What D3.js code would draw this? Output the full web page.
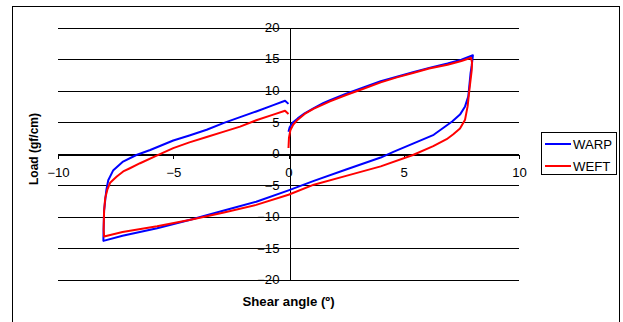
<!DOCTYPE html>
<html>
<head>
<meta charset="utf-8">
<script src="https://cdn.jsdelivr.net/npm/d3@7"></script>
<style>
  html, body { margin: 0; padding: 0; background: #fff; }
  svg { display: block; }
  text { font-family: Arial, "Liberation Sans", sans-serif; }
</style>
</head>
<body>
<svg id="chart" width="623" height="322"></svg>
<script>
// ---- data ----
const xTicks = [-10, -5, 0, 5, 10];
const yTicks = [-20, -15, -10, -5, 0, 5, 10, 15, 20];
const seriesNames = ["WARP", "WEFT"];
const seriesColors = ["#0000FF", "#FF0000"];

const warpAngle = [0, 0.05, 0.2, 0.4, 0.7, 1.08, 1.5, 1.8, 2.5, 3.25, 4.0, 4.7, 5.4, 6.1, 6.9, 7.5, 8.0,
  7.95, 7.9, 7.8, 7.66, 7.44, 7.1, 6.3, 5.4, 4.55, 4.0, 2.5, 1.1, 0, -1.4, -2.8, -4.3, -5.7, -7.2, -8.03,
  -8.03, -8.0, -7.95, -7.9, -7.82, -7.6, -7.2, -6.6, -6.0, -5.0, -4.3, -3.55, -2.8, -2.1, -1.4, -0.66, -0.15, 0];
const warpLoad = [3.5, 4.2, 5.0, 5.6, 6.4, 7.2, 8.0, 8.5, 9.5, 10.5, 11.5, 12.2, 12.9, 13.6, 14.3, 14.9, 15.6,
  14.0, 12.8, 9.1, 7.5, 6.2, 5.1, 3.0, 1.6, 0.3, -0.6, -2.5, -4.3, -5.8, -7.6, -9.0, -10.5, -11.8, -13.0, -13.8,
  -13.3, -9.0, -7.3, -5.7, -4.2, -2.6, -1.3, -0.2, 0.6, 2.1, 2.9, 3.8, 4.9, 5.8, 6.7, 7.7, 8.4, 7.9];

const weftAngle = [0, 0.02, 0.08, 0.2, 0.4, 0.7, 1.08, 1.8, 2.5, 3.25, 4.0, 4.7, 5.4, 6.1, 6.9, 7.5, 7.92,
  7.96, 7.95, 7.85, 7.77, 7.66, 7.44, 7.15, 6.86, 6.28, 5.4, 4.0, 2.5, 1.1, 0, -1.4, -2.8, -4.3, -5.7, -7.2, -8.0,
  -8.02, -8.0, -7.95, -7.86, -7.74, -7.45, -7.17, -6.88, -6.44, -5.72, -5.0, -4.3, -3.55, -2.8, -2.1, -1.4, -0.66, -0.15, 0];
const weftLoad = [0.9, 2.5, 3.7, 4.6, 5.4, 6.3, 7.1, 8.3, 9.3, 10.3, 11.3, 12.1, 12.8, 13.5, 14.1, 14.7, 15.2,
  14.5, 13.3, 10.2, 7.5, 5.4, 4.0, 3.1, 2.3, 1.2, -0.2, -2.0, -3.5, -4.9, -6.5, -8.1, -9.3, -10.5, -11.5, -12.4, -13.1,
  -12.0, -9.0, -7.0, -5.7, -4.6, -3.6, -2.8, -2.3, -1.5, -0.3, 0.9, 1.8, 2.65, 3.5, 4.3, 5.3, 6.2, 6.8, 6.3];

const series = [
  { name: seriesNames[0], color: seriesColors[0], pts: warpAngle.map((a, i) => [a, warpLoad[i]]) },
  { name: seriesNames[1], color: seriesColors[1], pts: weftAngle.map((a, i) => [a, weftLoad[i]]) }
];

// ---- chart ----
const svg = d3.select("#chart");
const x = d3.scaleLinear().domain([-10, 10]).range([58, 519]);
const y = d3.scaleLinear().domain([-20, 20]).range([280, 27.5]);

// outer border
svg.append("rect").attr("x", 12.5).attr("y", 6.5).attr("width", 607).attr("height", 330)
  .attr("fill", "#fff").attr("stroke", "#000").attr("stroke-width", 1);

// gridlines
svg.append("g").selectAll("line").data(yTicks).join("line")
  .attr("x1", x(-10)).attr("x2", x(10))
  .attr("y1", d => Math.round(y(d)) + 0.5).attr("y2", d => Math.round(y(d)) + 0.5)
  .attr("stroke", "#000").attr("stroke-width", 1).attr("shape-rendering", "crispEdges");

// y axis at x=0
const yAxis = svg.append("g")
  .attr("transform", `translate(${Math.round(x(0)) + 0.5},0)`)
  .call(d3.axisLeft(y).tickValues(yTicks).tickSize(4).tickSizeOuter(0).tickPadding(6));
// x axis at y=0
const xAxis = svg.append("g")
  .attr("transform", `translate(0,${Math.round(y(0)) + 0.5})`)
  .call(d3.axisBottom(x).tickValues(xTicks).tickSize(4).tickSizeOuter(0).tickPadding(10));

[yAxis, xAxis].forEach(g => {
  g.selectAll("path, line").attr("stroke", "#000").attr("shape-rendering", "crispEdges");
  g.selectAll("text").attr("font-size", 12).attr("fill", "#000")
    .attr("font-family", "Arial, 'Liberation Sans', sans-serif");
});
// slight horizontal stretch of tick labels like the reference
yAxis.selectAll(".tick text").each(function () {
  const t = d3.select(this);
  const tx = +t.attr("x");
  t.attr("x", null).attr("transform", `translate(${tx},0) scale(1.1,1)`);
});
xAxis.selectAll(".tick text").attr("transform", "scale(1.1,1)");

// series lines
const line = d3.line().x(d => x(d[0])).y(d => y(d[1]));
svg.append("g").selectAll("path").data(series).join("path")
  .attr("d", d => line(d.pts))
  .attr("fill", "none").attr("stroke", d => d.color)
  .attr("stroke-width", 2).attr("stroke-linejoin", "round");

// axis titles
svg.append("text")
  .attr("transform", `translate(${(x(-10) + x(10)) / 2},${306}) scale(1.1,1)`)
  .attr("text-anchor", "middle").attr("font-size", 12).attr("font-weight", "bold")
  .text("Shear angle (º)");
svg.append("text")
  .attr("transform", `translate(38,149) rotate(-90)`)
  .attr("text-anchor", "middle").attr("font-size", 12).attr("font-weight", "bold")
  .text("Load (gf/cm)");

// legend
const lg = svg.append("g");
lg.append("rect").attr("x", 541.5).attr("y", 132.5).attr("width", 75).attr("height", 42)
  .attr("fill", "#fff").attr("stroke", "#000");
series.forEach((s, i) => {
  const ly = 144 + i * 22;
  lg.append("line").attr("x1", 545).attr("x2", 571).attr("y1", ly).attr("y2", ly)
    .attr("stroke", s.color).attr("stroke-width", 2);
  lg.append("text").attr("transform", `translate(573,${ly + 4.5}) scale(1.1,1)`)
    .attr("font-size", 12).attr("fill", "#000").text(s.name);
});
</script>
</body>
</html>
